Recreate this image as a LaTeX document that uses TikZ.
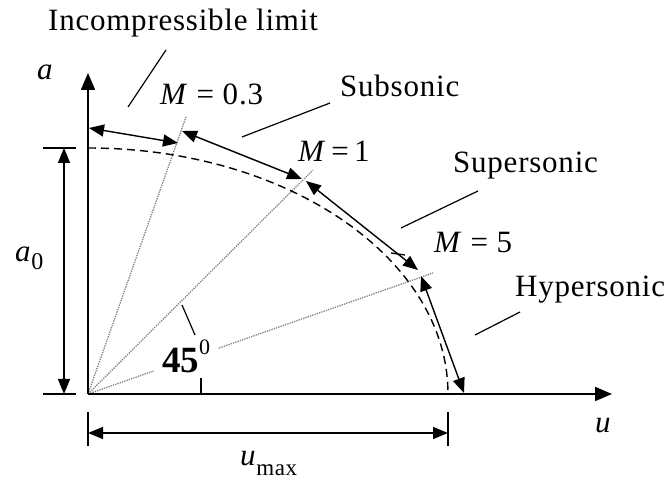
\documentclass[tikz,border=0pt]{standalone}
\usepackage{fontspec}
\setmainfont{Liberation Serif}[LetterSpace=2.5]
\newfontfamily\plainserif{Liberation Serif}
\usetikzlibrary{arrows.meta}
\begin{document}
\begin{tikzpicture}[x=1pt,y=-1pt,
  lab/.style={inner sep=0pt, anchor=base west, font=\fontsize{31}{36}\selectfont},
  axisline/.style={line width=1.8pt, -{Triangle[length=17pt,width=14pt]}},
  dblarrow/.style={line width=1.4pt, {Triangle[length=15pt,width=12pt]}-{Triangle[length=15pt,width=12pt]}},
  rayline/.style={gray, line width=1.3pt, dash pattern=on 1.3pt off 1.1pt},
  leader/.style={line width=1.2pt},
  tickline/.style={line width=1.3pt},
  ellipseline/.style={line width=1.4pt, dash pattern=on 8pt off 5pt}]
\useasboundingbox (0,0) rectangle (665,481);

% key points
\coordinate (O) at (88,394);
\coordinate (Ytip) at (88,73);
\coordinate (Xtip) at (612,394);
\coordinate (P0) at (89,128);
\coordinate (P1a) at (178,143);
\coordinate (P1b) at (182,131);
\coordinate (P2a) at (302,179);
\coordinate (P2b) at (306,181);
\coordinate (P3a) at (418,270);
\coordinate (P3b) at (421,276);
\coordinate (P4) at (464,393);
\coordinate (R1) at (186,117);
\coordinate (R2) at (313,170);
\coordinate (R3) at (433,273);
\coordinate (E0) at (88,148);

% rays
\draw[rayline] (O) -- (R1);
\draw[rayline] (O) -- (R2);
\draw[rayline] (O) -- (R3);

% 45 degree label
\node[fill=white, inner xsep=8pt, inner ysep=3pt, anchor=base west] (t45) at (154,373)
  {\plainserif\fontsize{37}{37}\selectfont\bfseries 45\raisebox{18pt}{\fontsize{22}{22}\selectfont\mdseries 0}};
\coordinate (L45a) at (182,305);
\coordinate (L45b) at (195,335);
\draw[leader] (L45a) -- (L45b);
\coordinate (Tk1) at (201,378);
\coordinate (Tk2) at (201,394);
\draw[tickline] (Tk1) -- (Tk2);

% dashed ellipse
\draw[ellipseline] (E0) arc[start angle=-90, end angle=0, x radius=360, y radius=246];
\coordinate (Da) at (391,253);
\coordinate (Db) at (405,255);
\draw[tickline] (Da) -- (Db);

% axes
\draw[axisline] (O) -- (Ytip);
\draw[axisline] (O) -- (Xtip);

% regime arrows
\draw[dblarrow] (P0) -- (P1a);
\draw[dblarrow] (P1b) -- (P2a);
\draw[dblarrow] (P2b) -- (P3a);
\draw[dblarrow] (P3b) -- (P4);

% a0 dimension
\coordinate (A0t) at (64,148);
\coordinate (A0b) at (64,394);
\coordinate (A0tl) at (43,148);
\coordinate (A0tr) at (76,148);
\coordinate (A0bl) at (43,394);
\coordinate (A0br) at (76,394);
\draw[tickline] (A0tl) -- (A0tr);
\draw[tickline] (A0bl) -- (A0br);
\draw[dblarrow] (A0t) -- (A0b);

% umax dimension
\coordinate (Ul) at (88,433);
\coordinate (Ur) at (448,433);
\coordinate (Ult) at (88,412);
\coordinate (Ulb) at (88,446);
\coordinate (Urt) at (448,412);
\coordinate (Urb) at (448,446);
\draw[tickline] (Ult) -- (Ulb);
\draw[tickline] (Urt) -- (Urb);
\draw[dblarrow] (Ul) -- (Ur);

% leaders
\coordinate (LIa) at (166,50);
\coordinate (LIb) at (128,107);
\draw[leader] (LIa) -- (LIb);
\coordinate (LSa) at (330,103);
\coordinate (LSb) at (242,137);
\draw[leader] (LSa) -- (LSb);
\coordinate (LPa) at (478,191);
\coordinate (LPb) at (401,228);
\draw[leader] (LPa) -- (LPb);
\coordinate (LHa) at (520,312);
\coordinate (LHb) at (475,335);
\draw[leader] (LHa) -- (LHb);

% texts
\node[lab] (tInc) at (48,31) {Incompressible limit};
\node[lab] (tSub) at (340,97) {Subsonic};
\node[lab] (tSup) at (453,173) {Supersonic};
\node[lab] (tHyp) at (515,297) {Hypersonic};
\node[lab] (tM03) at (160,105) {\textit{M} = 0.3};
\node[lab] (tM1) at (298,162) {\textit{M}\,=\,1};
\node[lab] (tM5) at (434,253) {\textit{M} = 5};
\node[lab] (ta) at (37,80) {\textit{a}};
\node[lab] (ta0) at (15,262) {\textit{a}\raisebox{-8pt}{\fontsize{24}{24}\selectfont 0}};
\node[lab] (tu) at (595,432) {\textit{u}};
\node[lab] (tumax) at (240,465) {\textit{u}\raisebox{-10pt}{\fontsize{23}{23}\selectfont max}};
\end{tikzpicture}
\end{document}
